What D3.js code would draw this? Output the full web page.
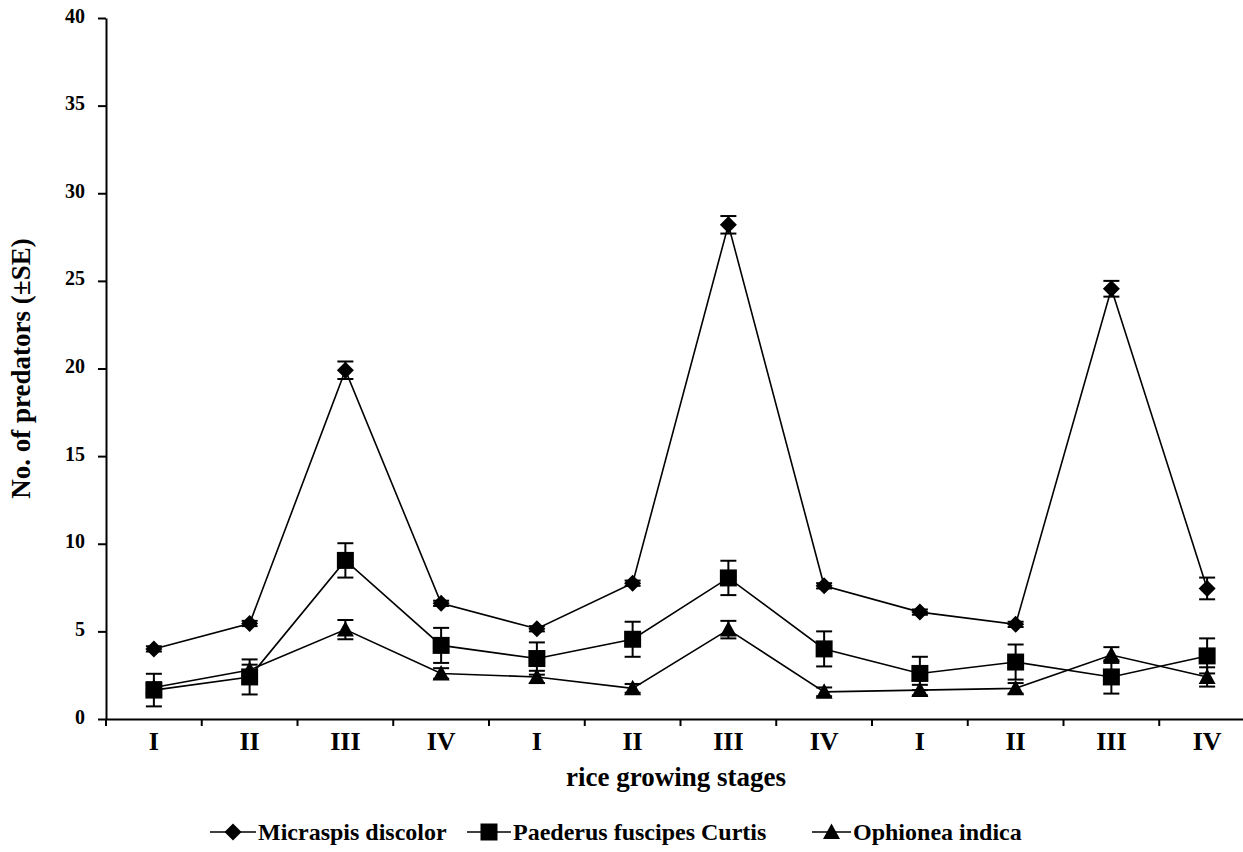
<!DOCTYPE html>
<html>
<head>
<meta charset="utf-8">
<script src="https://cdn.jsdelivr.net/npm/d3@7"></script>
<style>
  body { margin: 0; background: #fff; }
  svg text { font-family: "Liberation Serif", "Times New Roman", serif; font-weight: bold; fill: #000; }
</style>
</head>
<body>
<svg id="chart"></svg>
<script>
// rice growing stages, three seasons
const stages = ['I', 'II', 'III', 'IV', 'I', 'II', 'III', 'IV', 'I', 'II', 'III', 'IV']

const micraspis = [4.0, 5.45, 19.9, 6.6, 5.15, 7.75, 28.2, 7.6, 6.1, 5.4, 24.55, 7.45]
const micraspisSE = [0.15, 0.15, 0.5, 0.15, 0.15, 0.15, 0.5, 0.15, 0.15, 0.15, 0.45, 0.62]

const paederus = [1.65, 2.4, 9.05, 4.2, 3.45, 4.55, 8.05, 4.0, 2.6, 3.25, 2.4, 3.6]
const paederusSE = [0.93, 1.0, 0.98, 1.0, 0.92, 1.0, 0.98, 1.0, 0.95, 1.0, 0.95, 1.0]

const ophionea = [1.8, 2.8, 5.1, 2.6, 2.4, 1.75, 5.1, 1.55, 1.65, 1.75, 3.65, 2.4]
const ophioneaSE = [0.3, 0.3, 0.55, 0.3, 0.35, 0.25, 0.5, 0.25, 0.3, 0.3, 0.45, 0.55]

const yTicks = [0, 5, 10, 15, 20, 25, 30, 35, 40]

const seriesNames = ['Micraspis discolor', 'Paederus fuscipes Curtis', 'Ophionea indica']
const seriesShapes = ['diamond', 'square', 'triangle']

const config = {
    width: 1243,
    height: 852,
    left: 106,
    right: 1255,
    top: 18,
    bottom: 719
}

const svg = d3.select('#chart')
    .attr('width', config.width)
    .attr('height', config.height)

const xScale = d3.scaleBand()
    .domain(d3.range(stages.length))
    .range([config.left, config.right])

const yScale = d3.scaleLinear()
    .domain([0, 40])
    .range([config.bottom, config.top])

const xCenter = i => xScale(i) + xScale.bandwidth() / 2

function shapePath(shape) {
    if (shape === 'diamond') return 'M0,-8.5L8.5,0L0,8.5L-8.5,0Z'
    if (shape === 'square') return 'M-8.5,-8.5H8.5V8.5H-8.5Z'
    return 'M0,-8.5L8.5,7L-8.5,7Z'
}

// axes
const yAxis = d3.axisLeft(yScale)
    .tickValues(yTicks)
    .tickSize(8)
    .tickSizeOuter(0)
    .tickPadding(13)

const yAxisG = svg.append('g')
    .attr('transform', `translate(${config.left},0)`)
    .call(yAxis)
yAxisG.selectAll('text').style('font-size', '20px').attr('dy', '0.2em')
yAxisG.selectAll('path, line').attr('stroke', '#000').attr('stroke-width', 2)

const xAxis = d3.axisBottom(xScale)
    .tickSize(0)
    .tickSizeOuter(0)
    .tickPadding(12)
    .tickFormat(i => stages[i])

const xAxisG = svg.append('g')
    .attr('transform', `translate(0,${config.bottom})`)
    .call(xAxis)
xAxisG.selectAll('.tick text').style('font-size', '26px').attr('dy', '0.72em')
xAxisG.select('.domain').attr('stroke', '#000').attr('stroke-width', 2)

// tick marks between stages
xAxisG.selectAll('.sep')
    .data(d3.range(stages.length + 1))
    .join('line')
    .attr('class', 'sep')
    .attr('x1', i => config.left + i * xScale.bandwidth())
    .attr('x2', i => config.left + i * xScale.bandwidth())
    .attr('y1', 0)
    .attr('y2', 7)
    .attr('stroke', '#000')
    .attr('stroke-width', 2)

// axis titles
svg.append('text')
    .attr('transform', `translate(30,${(config.top + config.bottom) / 2}) rotate(-90)`)
    .attr('text-anchor', 'middle')
    .style('font-size', '27px')
    .text('No. of predators (±SE)')

svg.append('text')
    .attr('x', 676)
    .attr('y', 786)
    .attr('text-anchor', 'middle')
    .style('font-size', '27px')
    .text('rice growing stages')

// series
const allSeries = [
    { values: micraspis, se: micraspisSE },
    { values: paederus, se: paederusSE },
    { values: ophionea, se: ophioneaSE }
]

const line = d3.line()
    .x((d, i) => xCenter(i))
    .y(d => yScale(d))

const marks = svg.append('g')

allSeries.forEach(s => {
    marks.append('path')
        .datum(s.values)
        .attr('d', line)
        .attr('fill', 'none')
        .attr('stroke', '#000')
        .attr('stroke-width', 1.6)
})

allSeries.forEach((s, k) => {
    const rows = s.values.map((v, i) => ({ i: i, v: v, se: s.se[i] }))
    const g = marks.append('g')

    const bars = g.selectAll('.err')
        .data(rows)
        .join('g')
        .attr('class', 'err')
        .attr('stroke', '#000')
        .attr('stroke-width', 2)

    bars.append('line')
        .attr('x1', d => xCenter(d.i))
        .attr('x2', d => xCenter(d.i))
        .attr('y1', d => yScale(d.v + d.se))
        .attr('y2', d => yScale(d.v - d.se))

    bars.append('line')
        .attr('x1', d => xCenter(d.i) - 8)
        .attr('x2', d => xCenter(d.i) + 8)
        .attr('y1', d => yScale(d.v + d.se))
        .attr('y2', d => yScale(d.v + d.se))

    bars.append('line')
        .attr('x1', d => xCenter(d.i) - 8)
        .attr('x2', d => xCenter(d.i) + 8)
        .attr('y1', d => yScale(d.v - d.se))
        .attr('y2', d => yScale(d.v - d.se))

    g.selectAll('.mark')
        .data(rows)
        .join('path')
        .attr('class', 'mark')
        .attr('d', shapePath(seriesShapes[k]))
        .attr('transform', d => `translate(${xCenter(d.i)},${yScale(d.v)})`)
        .attr('fill', '#000')
})

// legend
const legendLineX = [210, 467, 812]
const legendTextX = [258, 513, 853]
const legend = svg.append('g')
    .attr('transform', 'translate(0,832)')

const items = legend.selectAll('.item')
    .data(seriesNames)
    .join('g')
    .attr('class', 'item')

items.append('line')
    .attr('x1', (d, i) => legendLineX[i])
    .attr('x2', (d, i) => legendTextX[i] - 2)
    .attr('stroke', '#000')
    .attr('stroke-width', 1.6)

items.append('path')
    .attr('d', (d, i) => shapePath(seriesShapes[i]))
    .attr('transform', (d, i) => `translate(${(legendLineX[i] + legendTextX[i] - 2) / 2},0)`)
    .attr('fill', '#000')

items.append('text')
    .attr('x', (d, i) => legendTextX[i])
    .attr('y', 8)
    .style('font-size', '24px')
    .text(d => d)
</script>
</body>
</html>
